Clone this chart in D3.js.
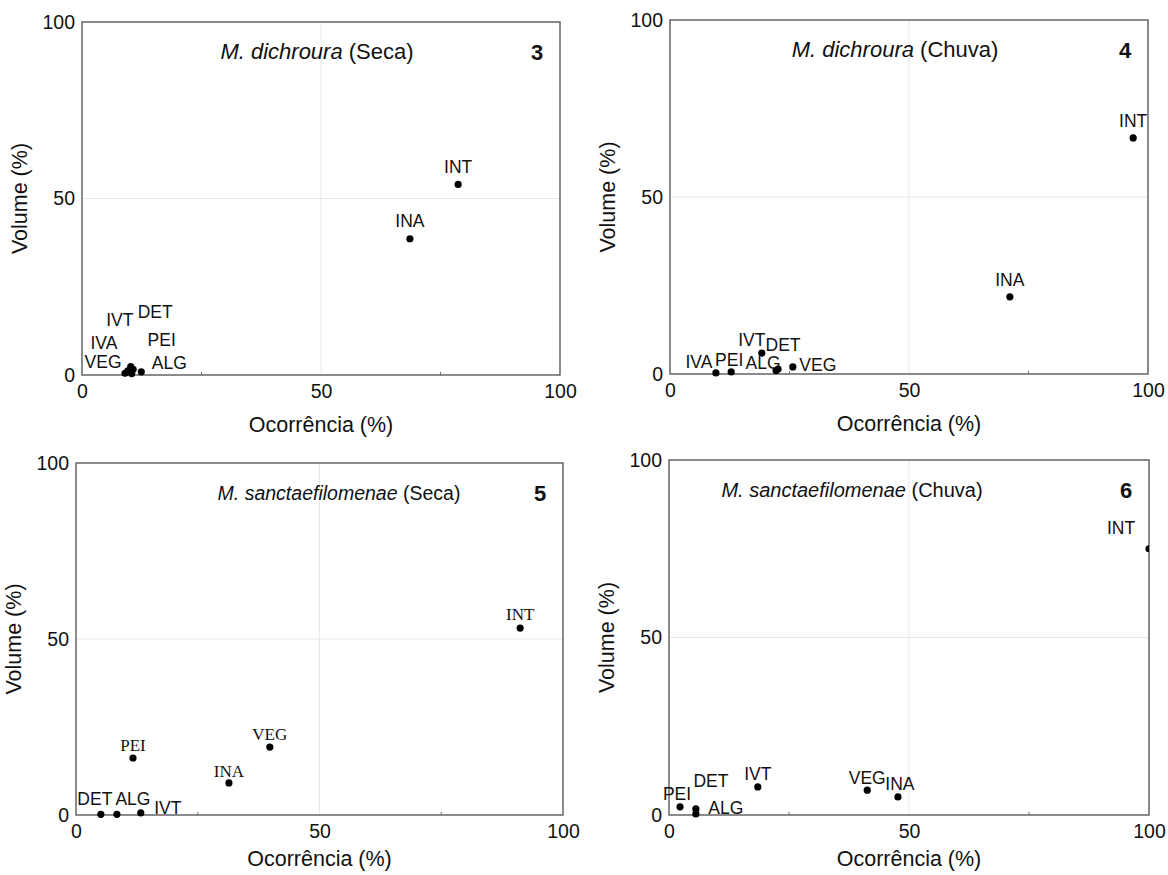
<!DOCTYPE html>
<html>
<head>
<meta charset="utf-8">
<script src="https://cdn.jsdelivr.net/npm/d3@7"></script>
<style>
  body { margin: 0; background: #fff; }
  svg { font-family: "Liberation Sans", Arial, sans-serif; }
</style>
</head>
<body>
<svg width="1168" height="875"></svg>
<script>
// values (Ocorrência %, Volume %)
var ticks = [0, 50, 100];
var minorTicks = [25, 75];

var items3 = ["INT", "INA", "IVT", "DET", "IVA", "PEI", "VEG", "ALG"];
var occ3 = [78.7, 68.6, 10.2, 10.7, 9.6, 10.4, 9.0, 12.4];
var vol3 = [54.0, 38.6, 2.4, 1.6, 1.2, 0.4, 0.5, 0.9];

var items4 = ["INT", "INA", "IVT", "DET", "ALG", "VEG", "IVA", "PEI"];
var occ4 = [96.9, 71.1, 19.2, 22.6, 22.2, 25.7, 9.6, 12.8];
var vol4 = [66.7, 21.8, 5.9, 1.4, 1.0, 2.0, 0.3, 0.6];

var items5 = ["INT", "VEG", "INA", "PEI", "DET", "ALG", "IVT"];
var occ5 = [91.2, 39.8, 31.4, 11.7, 5.1, 8.4, 13.3];
var vol5 = [53.1, 19.3, 9.1, 16.2, 0.2, 0.2, 0.6];

var items6 = ["INT", "VEG", "INA", "IVT", "PEI", "DET", "ALG"];
var occ6 = [100, 41.3, 47.7, 18.5, 2.3, 5.6, 5.6];
var vol6 = [75.0, 7.0, 5.1, 7.9, 2.3, 1.7, 0.3];

// layout of each panel; label offsets are in pixels from the dot
var panels = [
  { species: "M. dichroura", season: "(Seca)", num: "3",
    items: items3, occ: occ3, vol: vol3,
    x0: 82, x1: 560, y0: 22, y1: 375, titleX: 317, titleSize: 22, xTitleGap: 57,
    dx: [0, 0, -11, 22, -24, 30, -22, 28],
    dy: [-18, -18, -47, -57, -28, -34, -11, -9],
    serif: [] },
  { species: "M. dichroura", season: "(Chuva)", num: "4",
    items: items4, occ: occ4, vol: vol4,
    x0: 670, x1: 1148, y0: 20, y1: 374, titleX: 895, titleSize: 22, xTitleGap: 57,
    dx: [0, 0, -10, 5, -13, 25, -17, -2],
    dy: [-17, -17, -13, -24, -8, -2, -11, -12],
    serif: [] },
  { species: "M. sanctaefilomenae", season: "(Seca)", num: "5",
    items: items5, occ: occ5, vol: vol5,
    x0: 76, x1: 563, y0: 463, y1: 815, titleX: 339, titleSize: 19.5, xTitleGap: 51,
    dx: [0, 0, 0, 0, -6, 16, 27],
    dy: [-14, -13, -12, -13, -15, -15, -5],
    serif: ["INT", "VEG", "INA", "PEI"] },
  { species: "M. sanctaefilomenae", season: "(Chuva)", num: "6",
    items: items6, occ: occ6, vol: vol6,
    x0: 669, x1: 1149, y0: 460, y1: 815, titleX: 852, titleSize: 20, xTitleGap: 51,
    dx: [-28, 0, 2, 0, -3, 15, 30],
    dy: [-21, -12, -13, -13, -13, -28, -6],
    serif: [] }
];

var svg = d3.select("svg");

panels.forEach(function(p) {
  var x = d3.scaleLinear().domain([0, 100]).range([p.x0, p.x1]);
  var y = d3.scaleLinear().domain([0, 100]).range([p.y1, p.y0]);
  var g = svg.append("g");

  // light grid at 50
  g.append("line")
      .attr("x1", x(50)).attr("x2", x(50))
      .attr("y1", y(0)).attr("y2", y(100))
      .attr("stroke", "#e8e8e8");
  g.append("line")
      .attr("x1", x(0)).attr("x2", x(100))
      .attr("y1", y(50)).attr("y2", y(50))
      .attr("stroke", "#e8e8e8");

  // small inner ticks on the bottom axis
  g.selectAll(".minor")
      .data(minorTicks)
    .enter().append("line")
      .attr("x1", function(d) { return x(d); })
      .attr("x2", function(d) { return x(d); })
      .attr("y1", y(0)).attr("y2", y(0) - 3)
      .attr("stroke", "#777");

  g.append("rect")
      .attr("x", p.x0).attr("y", p.y0)
      .attr("width", p.x1 - p.x0).attr("height", p.y1 - p.y0)
      .attr("fill", "none")
      .attr("stroke", "#5a5a5a")
      .attr("stroke-width", 1.4);

  var xAxis = g.append("g")
      .attr("transform", "translate(0," + y(0) + ")")
      .call(d3.axisBottom(x).tickValues(ticks).tickSize(0).tickPadding(9));
  var yAxis = g.append("g")
      .attr("transform", "translate(" + x(0) + ",0)")
      .call(d3.axisLeft(y).tickValues(ticks).tickSize(0).tickPadding(7));
  [xAxis, yAxis].forEach(function(a) {
    a.select(".domain").remove();
    a.selectAll("text")
        .attr("font-family", "Liberation Sans, Arial, sans-serif")
        .attr("font-size", 19.5)
        .attr("fill", "#111");
  });

  g.append("text")
      .attr("x", (p.x0 + p.x1) / 2)
      .attr("y", p.y1 + p.xTitleGap)
      .attr("text-anchor", "middle")
      .attr("font-size", 21.5)
      .attr("fill", "#111")
      .text("Ocorrência (%)");

  g.append("text")
      .attr("transform", "translate(" + (p.x0 - 55) + "," + ((p.y0 + p.y1) / 2) + ") rotate(-90)")
      .attr("text-anchor", "middle")
      .attr("font-size", 21.5)
      .attr("fill", "#111")
      .text("Volume (%)");

  var title = g.append("text")
      .attr("x", p.titleX)
      .attr("y", p.y0 + 37)
      .attr("text-anchor", "middle")
      .attr("font-size", p.titleSize)
      .attr("fill", "#111");
  title.append("tspan").attr("font-style", "italic").text(p.species);
  title.append("tspan").text(" " + p.season);

  g.append("text")
      .attr("x", p.x1 - 23)
      .attr("y", p.y0 + 38)
      .attr("text-anchor", "middle")
      .attr("font-size", 22)
      .attr("font-weight", "bold")
      .attr("fill", "#111")
      .text(p.num);

  var idx = d3.range(p.items.length);

  // clip so the dot on the right border is cut like in the figure
  var clipId = "clip" + p.num;
  svg.append("clipPath").attr("id", clipId)
    .append("rect")
      .attr("x", p.x0 - 6).attr("y", p.y0)
      .attr("width", p.x1 - p.x0 + 6).attr("height", p.y1 - p.y0 + 6);

  g.append("g").attr("clip-path", "url(#" + clipId + ")")
    .selectAll("circle")
      .data(idx)
    .enter().append("circle")
      .attr("cx", function(i) { return x(p.occ[i]); })
      .attr("cy", function(i) { return y(p.vol[i]); })
      .attr("r", 3.6)
      .attr("fill", "#000");

  g.selectAll(".lbl")
      .data(idx)
    .enter().append("text")
      .attr("class", "lbl")
      .attr("x", function(i) { return x(p.occ[i]) + p.dx[i]; })
      .attr("y", function(i) { return y(p.vol[i]) + p.dy[i]; })
      .attr("dy", "0.35em")
      .attr("text-anchor", "middle")
      .attr("font-family", function(i) {
        return p.serif.indexOf(p.items[i]) >= 0 ? "Liberation Serif, Times New Roman, serif" : null;
      })
      .attr("font-size", function(i) { return p.serif.indexOf(p.items[i]) >= 0 ? 17 : 17.5; })
      .attr("fill", "#111")
      .text(function(i) { return p.items[i]; });
});
</script>
</body>
</html>
